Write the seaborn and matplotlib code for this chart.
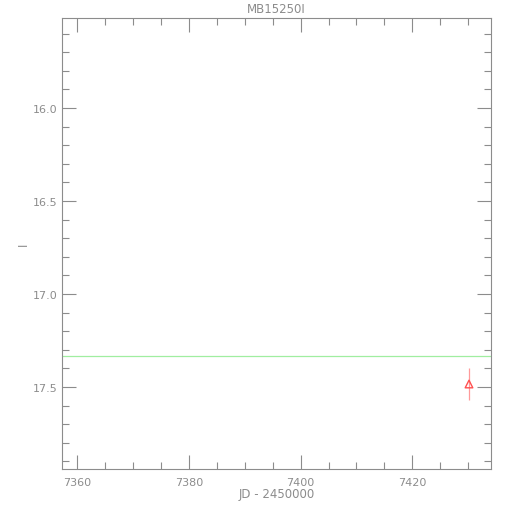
import matplotlib
matplotlib.use("Agg")
import matplotlib.pyplot as plt
import pandas as pd
import seaborn as sns
from matplotlib.ticker import MultipleLocator

# data
jd = [7430.15]
mag = [17.484]
mag_err = [0.085]
ref_level = 17.333
title = "MB15250I"

df = pd.DataFrame({"jd": jd, "mag": mag, "err": mag_err})

sns.set_theme(style="white")
plt.rcParams["font.family"] = ["DejaVu Sans"]
grey = "#8c8c8c"

fig = plt.figure(figsize=(5.1, 5.1), dpi=100)
ax = fig.add_axes([62 / 510, 40 / 510, 429 / 510, 451 / 510])

ax.axhline(ref_level, color="#a0eea0", lw=0.9, zorder=1)
ax.errorbar(df["jd"], df["mag"], yerr=df["err"], fmt="none",
            ecolor="#ff9a9a", elinewidth=0.9, capsize=0, zorder=2)
sns.scatterplot(data=df, x="jd", y="mag", ax=ax, marker="^", s=30,
                facecolor="none", edgecolor="#ff5050", linewidth=1.0, zorder=3)

ax.set_xlim(7357.26, 7434.09)
ax.set_ylim(17.941, 15.516)
ax.xaxis.set_major_locator(MultipleLocator(20))
ax.xaxis.set_minor_locator(MultipleLocator(5))
ax.yaxis.set_major_locator(MultipleLocator(0.5))
ax.yaxis.set_minor_locator(MultipleLocator(0.1))
ax.yaxis.set_major_formatter(matplotlib.ticker.FormatStrFormatter("%.1f"))

ax.tick_params(which="both", direction="in", top=True, right=True,
               bottom=True, left=True, color=grey, labelcolor=grey,
               labelsize=8, width=0.8)
ax.tick_params(which="major", length=10)
ax.tick_params(axis="y", which="major", pad=3)
ax.tick_params(axis="x", which="major", pad=6)
ax.tick_params(which="minor", length=5)
for s in ax.spines.values():
    s.set_color(grey)
    s.set_linewidth(0.8)

ax.set_title(title, color=grey, fontsize=8.5, pad=4)
ax.set_xlabel("JD - 2450000", color=grey, fontsize=8.5, labelpad=0)
ax.set_ylabel("I", color=grey, fontsize=8.5)
ax.yaxis.set_label_coords(-0.075, 0.5)

fig.savefig("out.png", dpi=100, facecolor="white")
